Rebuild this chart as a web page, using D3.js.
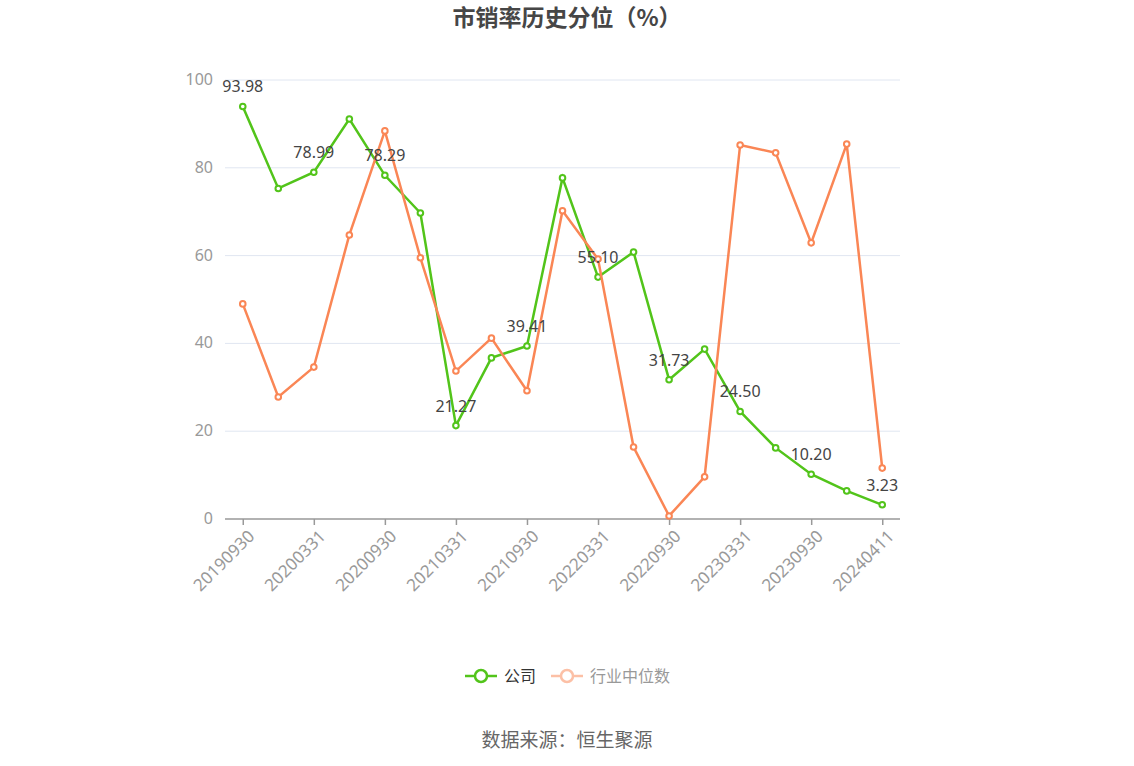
<!DOCTYPE html>
<html>
<head>
<meta charset="utf-8">
<script src="https://cdn.jsdelivr.net/npm/d3@7/dist/d3.min.js"></script>
<style>
  body { margin: 0; background: #fff; font-family: "Noto Sans CJK SC", "Noto Sans", sans-serif; }
</style>
</head>
<body>
<script>
const dates = ["20190930","20191231","20200331","20200630","20200930","20201231","20210331","20210630",
  "20210930","20211231","20220331","20220630","20220930","20221231","20230331","20230630",
  "20230930","20231231","20240411"];
const company = [93.98, 75.3, 78.99, 91.1, 78.29, 69.7, 21.27, 36.7, 39.41, 77.7, 55.10, 60.8,
  31.73, 38.7, 24.50, 16.2, 10.20, 6.4, 3.23];
const industry = [49.0, 27.8, 34.6, 64.7, 88.4, 59.5, 33.7, 41.2, 29.2, 70.2, 59.2, 16.4,
  0.7, 9.6, 85.2, 83.4, 62.9, 85.4, 11.6];
const yTicks = [0, 20, 40, 60, 80, 100];

const W = 1134, H = 766;
const green = "#52c41a", orange = "#fa8655";

const svg = d3.select("body").append("svg")
    .attr("width", W)
    .attr("height", H);

const x = d3.scalePoint().domain(dates).range([225, 900]).padding(0.5);
const y = d3.scaleLinear().domain([0, 100]).range([519, 80]);

// title
svg.append("text")
    .attr("x", W / 2).attr("y", 26)
    .attr("text-anchor", "middle")
    .attr("font-size", 23).attr("font-weight", "bold")
    .attr("fill", "#464646")
    .text("市销率历史分位（%）");

// grid
svg.append("g").selectAll("line")
    .data(yTicks.filter(d => d > 0))
    .enter().append("line")
    .attr("x1", 225).attr("x2", 900)
    .attr("y1", d => y(d)).attr("y2", d => y(d))
    .attr("stroke", "#e0e6f1");

svg.append("g").selectAll("text")
    .data(yTicks)
    .enter().append("text")
    .attr("x", 213).attr("y", d => y(d) + 5)
    .attr("text-anchor", "end")
    .attr("font-size", 16).attr("fill", "#999")
    .attr("font-family", "'Noto Sans', sans-serif")
    .text(d => d);

// x axis
const xAxis = d3.axisBottom(x)
    .tickValues(dates.filter((d, i) => i % 2 === 0))
    .tickSize(6)
    .tickSizeOuter(0);

const gx = svg.append("g")
    .attr("transform", "translate(0,519)")
    .call(xAxis);
gx.attr("font-size", 17).attr("font-family", "'Noto Sans', sans-serif");
gx.select(".domain").attr("stroke", "#999").attr("stroke-width", 1.5)
    .attr("d", "M225,0H900");
gx.selectAll(".tick line").attr("stroke", "#999").attr("stroke-width", 1.5);
gx.selectAll(".tick text")
    .attr("font-size", 17)
    .attr("fill", "#999")
    .attr("text-anchor", "end")
    .attr("dy", 0)
    .attr("transform", "translate(6,12) rotate(-45)");

const line = d3.line()
    .x((d, i) => x(dates[i]))
    .y(d => y(d));

function drawSeries(vals, color) {
    svg.append("path")
        .datum(vals)
        .attr("d", line)
        .attr("fill", "none")
        .attr("stroke", color)
        .attr("stroke-width", 2.5);
    svg.append("g").selectAll("circle")
        .data(vals)
        .enter().append("circle")
        .attr("cx", (d, i) => x(dates[i]))
        .attr("cy", d => y(d))
        .attr("r", 2.8)
        .attr("fill", "#fff")
        .attr("stroke", color)
        .attr("stroke-width", 2);
}

drawSeries(company, green);
drawSeries(industry, orange);

// labels on company series, every other point
svg.append("g").selectAll("text")
    .data(company.map((v, i) => [i, v]).filter(d => d[0] % 2 === 0))
    .enter().append("text")
    .attr("x", d => x(dates[d[0]]))
    .attr("y", d => y(d[1]) - 14)
    .attr("text-anchor", "middle")
    .attr("font-size", 16)
    .attr("font-family", "'Noto Sans', sans-serif")
    .attr("fill", "#444")
    .text(d => d[1].toFixed(2));

// legend
const legend = [
    { name: "公司", color: green, text: "#333", x: 465 },
    { name: "行业中位数", color: "#fcc0a6", text: "#999", x: 551 }
];
const lg = svg.append("g").selectAll("g")
    .data(legend)
    .enter().append("g")
    .attr("transform", d => `translate(${d.x},676)`);
lg.append("line")
    .attr("x1", 0).attr("x2", 32)
    .attr("stroke", d => d.color).attr("stroke-width", 2.5);
lg.append("circle")
    .attr("cx", 16).attr("r", 6)
    .attr("fill", "#fff")
    .attr("stroke", d => d.color).attr("stroke-width", 2.5);
lg.append("text")
    .attr("x", 39).attr("y", 6)
    .attr("font-size", 16)
    .attr("fill", d => d.text)
    .text(d => d.name);

// source
svg.append("text")
    .attr("x", W / 2).attr("y", 747)
    .attr("text-anchor", "middle")
    .attr("font-size", 19)
    .attr("fill", "#666")
    .text("数据来源：恒生聚源");
</script>
</body>
</html>
